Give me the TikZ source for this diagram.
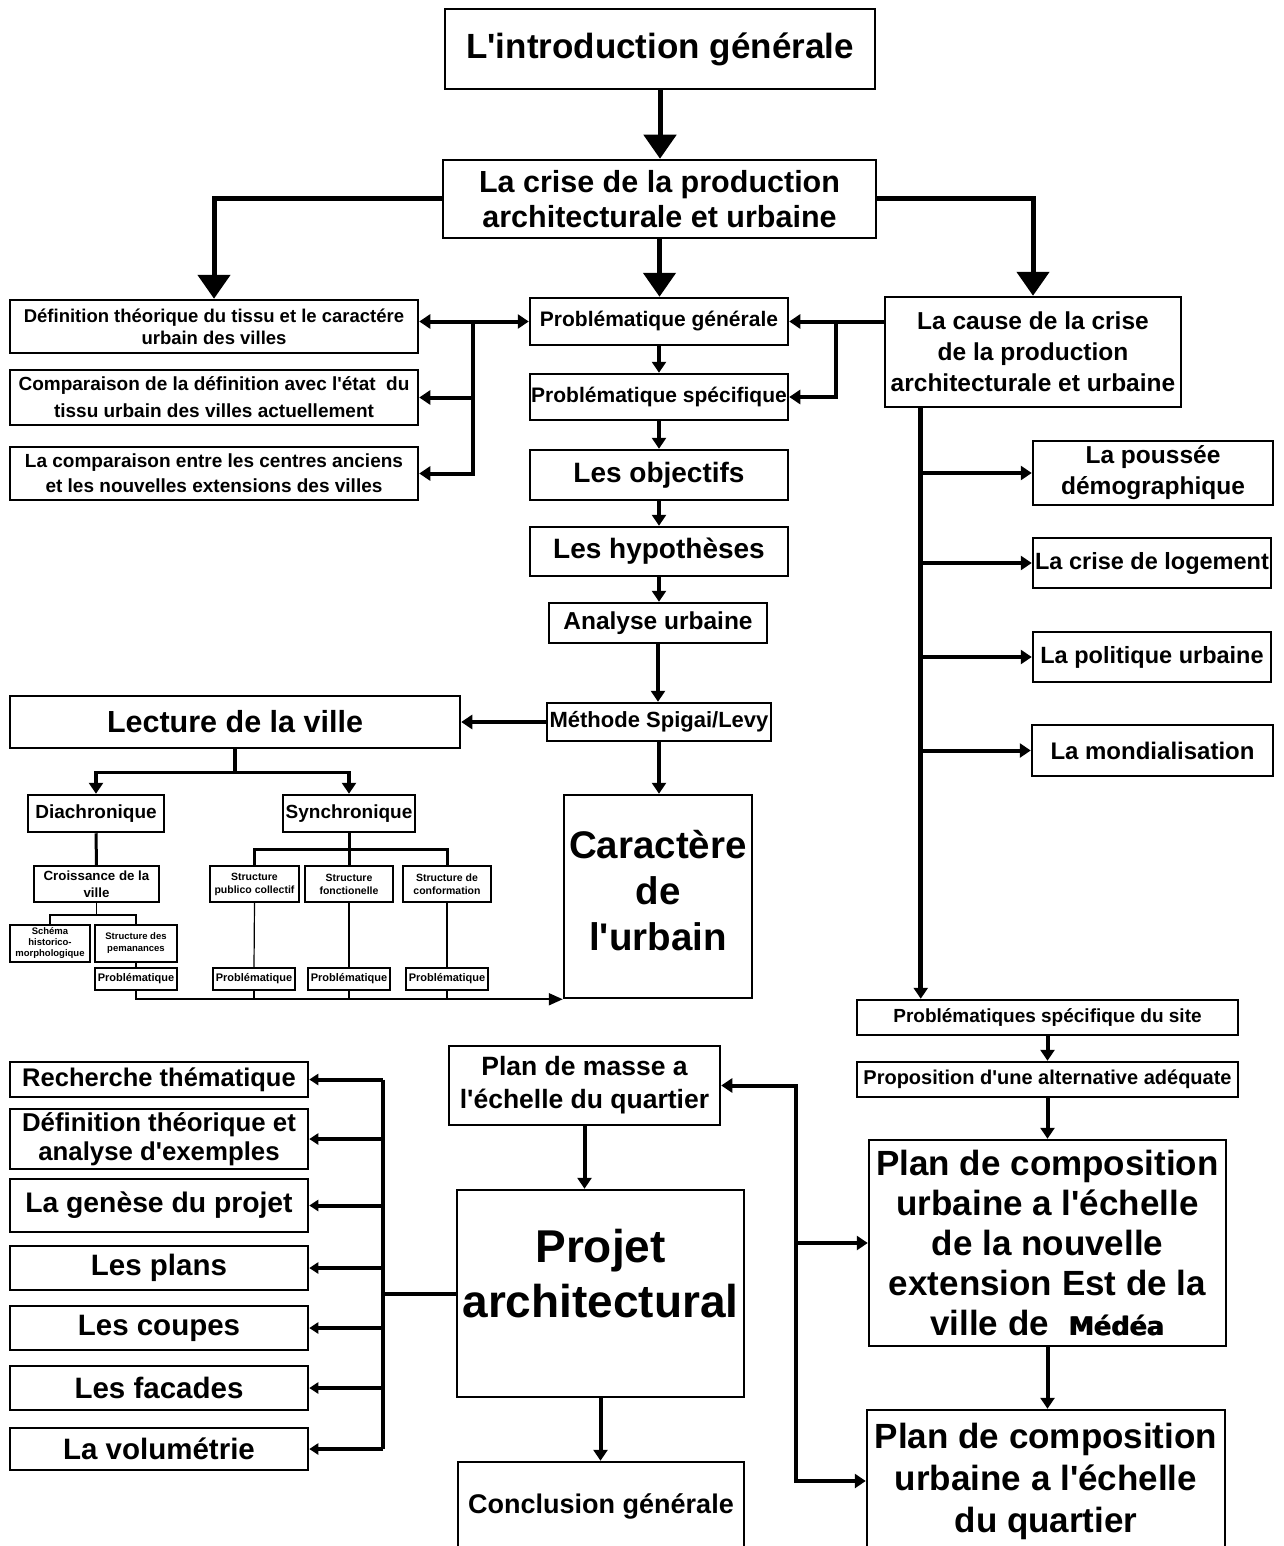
\documentclass[tikz,border=0pt]{standalone}
\usepackage{fontspec}
\setmainfont{Liberation Sans}
\newfontfamily\medfont{DejaVu Sans}
\usetikzlibrary{arrows.meta}
\newcommand{\fs}[2]{\fontsize{#1}{#2}\selectfont\bfseries}
\newcommand{\q}{\textquotesingle}
\newcommand{\heavy}[1]{\rlap{#1}\kern1pt#1}

\begin{document}
\begin{tikzpicture}[x=1pt, y=-1pt,
  box/.style={draw, line width=2.5pt, inner sep=0pt, align=center},
  sbox/.style={box, line width=1.2pt},
  big/.style={line width=5pt, -{Triangle[width=32pt,length=24pt]}},
  link/.style={line width=4pt, >={Triangle[width=14pt,length=11pt]}, ->},
  bus/.style={line width=4pt, >={Triangle[width=11pt,length=9pt]}},
  mid/.style={line width=3pt},
  thin/.style={line width=1.2pt},
  bot/.style={line width=2pt, >={Triangle[width=12pt,length=14pt]}}]
  \useasboundingbox (0,0) rectangle (1283,1546);

  % top
  \node[box, minimum width=430, minimum height=80, font=\fs{35}{42}] (intro) at (660,49) {L\q introduction générale};
  \node[box, minimum width=433, minimum height=78, font=\fs{30.5}{35}] (crise) at (659.5,199) {La crise de la production\\architecturale et urbaine};

  % left group
  \node[box, minimum width=408, minimum height=53, font=\fs{18.5}{22}] (def) at (214,326.5) {Définition théorique du tissu et le caractére\\urbain des villes};
  \node[box, minimum width=408, minimum height=55, font=\fs{19}{27}] (comp) at (214,397.5) {Comparaison de la définition avec l\q état\ \ du\\tissu urbain des villes actuellement};
  \node[box, minimum width=408, minimum height=53, font=\fs{19}{25}] (comp2) at (214,473.5) {La comparaison entre les centres anciens\\et les nouvelles extensions des villes};

  % central column
  \node[box, minimum width=258, minimum height=47, font=\fs{21}{24}] (pg) at (659,321.5) {Problématique générale};
  \node[box, minimum width=258, minimum height=46, font=\fs{21}{24}] (ps) at (659,397) {Problématique spécifique};
  \node[box, minimum width=258, minimum height=50, font=\fs{28}{34}] (obj) at (659,475) {Les objectifs};
  \node[box, minimum width=258, minimum height=49, font=\fs{28}{34}] (hyp) at (659,551.5) {Les hypothèses};
  \node[box, minimum width=218, minimum height=40, font=\fs{24.5}{30}] (ana) at (658,623) {Analyse urbaine};
  \node[box, minimum width=224, minimum height=38, font=\fs{22}{26}] (meth) at (659,722) {Méthode Spigai/Levy};
  \node[box, minimum width=188, minimum height=203, text depth=12pt, font=\fs{38.5}{46}] (car) at (658,896.5) {Caractère\\de\\l\q urbain};

  % right group
  \node[box, minimum width=296, minimum height=110, font=\fs{24.5}{31}] (cause) at (1033,352) {La cause de la crise\\de la production\\architecturale et urbaine};
  \node[box, minimum width=240, minimum height=64, font=\fs{24.5}{31}] (pous) at (1153,473) {La poussée\\démographique};
  \node[box, minimum width=238, minimum height=50, font=\fs{23.5}{28}] (loge) at (1152,563) {La crise de logement};
  \node[box, minimum width=238, minimum height=50, font=\fs{23.5}{28}] (poli) at (1152,657) {La politique urbaine};
  \node[box, minimum width=241, minimum height=51, font=\fs{24}{28}] (mond) at (1152.5,750.5) {La mondialisation};

  % lecture de la ville
  \node[box, minimum width=450, minimum height=52, font=\fs{30.5}{36}] (lect) at (235,722) {Lecture de la ville};
  \node[box, minimum width=136, minimum height=37, font=\fs{19}{23}] (diach) at (96,813.5) {Diachronique};
  \node[box, minimum width=132, minimum height=37, font=\fs{19}{23}] (synch) at (349,813.5) {Synchronique};
  \node[sbox, line width=1.8pt, minimum width=125, minimum height=36, font=\fs{13.3}{17}] (croiss) at (96.5,884) {Croissance de la\\ville};
  \node[sbox, minimum width=80, minimum height=37, font=\fs{9.5}{11}] (schema) at (50,943.5) {Schéma\\historico-\\morphologique};
  \node[sbox, minimum width=82, minimum height=37, font=\fs{9.5}{12}] (perm) at (136,943.5) {Structure des\\pemanances};
  \node[sbox, minimum width=82, minimum height=22, font=\fs{11}{13}] (pb0) at (136,979) {Problématique};
  \node[sbox, minimum width=89, minimum height=36, font=\fs{10.5}{13}] (sp1) at (254.5,884) {Structure\\publico collectif};
  \node[sbox, minimum width=88, minimum height=36, font=\fs{10.5}{13}] (sp2) at (349,884) {Structure\\fonctionelle};
  \node[sbox, minimum width=88, minimum height=36, font=\fs{10.5}{13}] (sp3) at (447,884) {Structure de\\conformation};
  \node[sbox, minimum width=82, minimum height=22, font=\fs{11}{13}] (pb1) at (254,979) {Problématique};
  \node[sbox, minimum width=82, minimum height=22, font=\fs{11}{13}] (pb2) at (349,979) {Problématique};
  \node[sbox, minimum width=82, minimum height=22, font=\fs{11}{13}] (pb3) at (447,979) {Problématique};

  % site
  \node[box, minimum width=381, minimum height=35, font=\fs{19}{23}] (psite) at (1047.5,1017.5) {Problématiques spécifique du site};
  \node[box, minimum width=381, minimum height=35, font=\fs{20}{23}] (prop) at (1047.5,1079.5) {Proposition d\q une alternative adéquate};
  \node[box, minimum width=357, minimum height=206, font=\fs{35}{40}] (pcu1) at (1047.5,1243) {Plan de composition\\urbaine a l\q échelle\\de la nouvelle\\extension Est de la\\ville de\ \ {\medfont\fontsize{25.5}{40}\selectfont\bfseries\heavy{Médéa}}};
  \node[box, minimum width=358, minimum height=142, font=\fs{35}{42}] (pcu2) at (1046,1481) {Plan de composition\\urbaine a l\q échelle\\du quartier};

  % projet
  \node[box, minimum width=271, minimum height=79, font=\fs{26.5}{33}] (pmasse) at (584.5,1085.5) {Plan de masse a\\l\q échelle du quartier};
  \node[box, minimum width=287, minimum height=207, text depth=40pt, font=\fs{46}{55}] (projet) at (600.5,1293.5) {Projet\\architectural};
  \node[box, minimum width=286, minimum height=88, font=\fs{27}{32}] (concl) at (601,1506) {Conclusion générale};
  \node[box, minimum width=298, minimum height=35, font=\fs{25.5}{29}] (rech) at (159,1079.5) {Recherche thématique};
  \node[box, minimum width=298, minimum height=60, font=\fs{25.8}{29}] (def2) at (159,1139) {Définition théorique et\\analyse d\q exemples};
  \node[box, minimum width=298, minimum height=53, font=\fs{28.3}{32}] (gen) at (159,1205.5) {La genèse du projet};
  \node[box, minimum width=298, minimum height=44, font=\fs{29.5}{34}] (plans) at (159,1268) {Les plans};
  \node[box, minimum width=298, minimum height=44, font=\fs{29.5}{34}] (coupes) at (159,1328) {Les coupes};
  \node[box, minimum width=298, minimum height=44, font=\fs{29.5}{34}] (facades) at (159,1388) {Les facades};
  \node[box, minimum width=298, minimum height=42, font=\fs{29.5}{34}] (volum) at (159,1449) {La volumétrie};

  % top arrows
  \draw[big] (intro.south) -- (intro.south |- crise.north);
  \draw[big] (crise.south) -- (crise.south |- pg.north);
  \draw[big] (crise.west) -| (def.north);
  \draw[big] (crise.east) -| (cause.north);

  % left group
  \coordinate (lbus) at (473,321.5);
  \draw[link,<->] (pg.west) -- (pg.west -| def.east);
  \draw[link] (lbus) |- (comp.east);
  \draw[link] (lbus) |- (comp2.east);
  \coordinate (cbus) at (836,321.5);
  \draw[link] (cause.west |- pg.east) -- (pg.east);
  \draw[link] (cbus) |- (ps.east);

  % central column
  \draw[link] (pg.south) -- (ps.north);
  \draw[link] (ps.south) -- (obj.north);
  \draw[link] (obj.south) -- (hyp.north);
  \draw[link] (hyp.south) -- (hyp.south |- ana.north);
  \draw[link] (ana.south) -- (ana.south |- meth.north);
  \draw[link] (meth.south) -- (meth.south |- car.north);
  \draw[link] (meth.west) -- (lect.east);

  % lecture de la ville
  \draw[link, line width=3.5pt] (lect.south) -- ++(0,23) -| (diach.north);
  \draw[link, line width=3.5pt] (lect.south) ++(0,23) -| (synch.north);
  \draw[mid] (diach.south) -- (croiss.north);
  \draw[thin] (croiss.south) -- ++(0,12) -| (schema.north);
  \draw[thin] (croiss.south) ++(0,12) -| (perm.north);
  \draw[thin] (perm.south) -- (pb0.north);
  \foreach \n in {sp1,sp2,sp3}
    \draw[mid] (synch.south) -- ++(0,16) -| (\n.north);
  \foreach \i in {1,2,3}
    \draw[thin] (sp\i.south) -- (pb\i.north);
  \draw[bot,->] (pb0.south) |- (car.south west);
  \foreach \i in {1,2,3}
    \draw[bot] (pb\i.south) -- (pb\i.south |- car.south west);

  % right group
  \coordinate (ct) at ([xshift=37pt]cause.south west);
  \draw[link, line width=5pt] (ct) -- (ct |- psite.north);
  \foreach \n in {pous,loge,poli,mond}
    \draw[link] (ct |- \n.west) -- (\n.west);
  \draw[link] (psite.south) -- (prop.north);
  \draw[link] (prop.south) -- (prop.south |- pcu1.north);
  \draw[link] (pcu1.south) -- (pcu1.south |- pcu2.north);

  % projet
  \draw[link] (pmasse.south) -- (pmasse.south |- projet.north);
  \draw[link] (projet.south) -- (projet.south |- concl.north);
  \coordinate (rb) at (796,1085.5);
  \draw[link,<->] (pmasse.east) -| (rb |- pcu2.west) -- (pcu2.west);
  \draw[link] (rb |- pcu1.west) -- (pcu1.west);
  \coordinate (lb) at (383,1293.5);
  \draw[bus] (projet.west) -- (lb);
  \draw[bus] (lb |- rech.east) -- (lb |- volum.east);
  \foreach \n in {rech,def2,gen,plans,coupes,facades,volum}
    \draw[bus,->] (lb |- \n.east) -- (\n.east);
\end{tikzpicture}
\end{document}
